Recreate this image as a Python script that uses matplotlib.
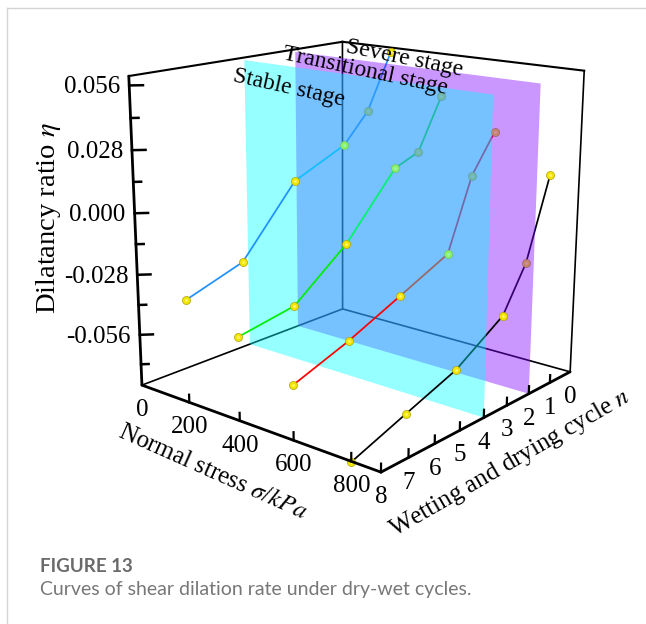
import numpy as np
import matplotlib
matplotlib.use("Agg")
import matplotlib.pyplot as plt
from matplotlib.lines import Line2D
from mpl_toolkits.mplot3d.art3d import Poly3DCollection

plt.rcParams["font.family"] = ["Liberation Serif", "DejaVu Sans"]
plt.rcParams["mathtext.fontset"] = "stix"

# data
cycles = [8, 6, 4, 2, 1, 0]
stress_levels = [200, 400, 600, 800]
eta_200 = [-0.0330, -0.0241, 0.0065, 0.0176, 0.0314, 0.0579]
eta_400 = [-0.0425, -0.0379, -0.0176, 0.0111, 0.0158, 0.0400]
eta_600 = [-0.0558, -0.0466, -0.0355, -0.0242, 0.0090, 0.0267]
eta_800 = [-0.0803, -0.0712, -0.0622, -0.0469, -0.0264, 0.0111]
curve_colors = ["#1E90FF", "#00EE00", "#FF0000", "#000000"]

eta_major = [-0.056, -0.028, 0.0, 0.028, 0.056]
eta_major_labels = ["-0.056", "-0.028", "0.000", "0.028", "0.056"]
eta_minor = [-0.07, -0.042, -0.014, 0.014, 0.042]
stress_ticks = [0, 200, 400, 600, 800]
cycle_ticks = [0, 1, 2, 3, 4, 5, 6, 7, 8]

stage_cycles = [4, 2]  # stable plane, transitional plane
plane_top = 0.0588

XMAX = 898.0
YMAX = 8.0
ZMIN, ZMAX = -0.08, 0.06
W, H = 646, 624


def pix_x(x):
    return x / W


def pix_y(y):
    return 1 - y / H


fig = plt.figure(figsize=(W / 100, H / 100), dpi=100, facecolor="white")
ax = fig.add_axes([87.9 / W, 1 - 502.0 / H, 528.6 / W, 528.6 / H], projection="3d", computed_zorder=False)
ax.set_xlim(0, XMAX, view_margin=0)
ax.set_ylim(YMAX, 0, view_margin=0)
ax.set_zlim(ZMIN, ZMAX, view_margin=0)
ax.set_box_aspect((1, 1.0021, 1.0112))
ax.view_init(elev=15.645, azim=-50.129, roll=-0.16)
ax.set_proj_type("persp", focal_length=0.4843)
ax.set_axis_off()
ax.patch.set_alpha(0)


def project(x, y, z):
    v = ax.get_proj() @ np.array([x, y, z, 1.0])
    return v[0] / v[3], v[1] / v[3]


def tick_label(text, x, y, z, dx, dy, ha="center"):
    ax.annotate(text, xy=project(x, y, z), xytext=(dx, dy), textcoords="offset pixels",
                ha=ha, va="center", fontsize=18, color="black", zorder=12, annotation_clip=False)


# box behind the planes
thin = dict(color="black", lw=1.2, solid_capstyle="round", zorder=1)
ax.plot([0, 0], [YMAX, 0], [ZMIN, ZMIN], **thin)
ax.plot([0, XMAX], [0, 0], [ZMIN, ZMIN], **thin)
ax.plot([0, 0], [0, 0], [ZMIN, ZMAX], **thin)
ax.plot([0, 0], [YMAX, 0], [ZMAX, ZMAX], color="black", lw=1.5, zorder=1)
ax.plot([0, XMAX], [0, 0], [ZMAX, ZMAX], color="black", lw=1.5, zorder=1)
ax.plot([XMAX, XMAX], [0, 0], [ZMIN, ZMAX], **thin)

curves = [eta_200, eta_400, eta_600, eta_800]


def draw_part(idx, line_z):
    # idx = positions in cycles, line_z = layer relative to the planes
    for sigma, eta, col in zip(stress_levels, curves, curve_colors):
        ns = [cycles[i] for i in idx]
        es = [eta[i] for i in idx]
        ax.plot([sigma] * len(ns), ns, es, color=col, lw=1.25, zorder=line_z)


def draw_markers(idx, marker_z):
    for sigma, eta in zip(stress_levels, curves):
        ns = [cycles[i] for i in idx]
        es = [eta[i] for i in idx]
        ax.plot([sigma] * len(ns), ns, es, ls="none", marker="o", ms=5.8, mfc="#F2E600",
                mec="#B0A200", mew=0.5, zorder=marker_z)
        ax.plot([sigma] * len(ns), ns, es, ls="none", marker="o", ms=2.0, mfc="#FFF870",
                mec="none", zorder=marker_z + 0.1)


def add_plane(n, color, z):
    verts = [[(0, n, ZMIN), (XMAX, n, ZMIN), (XMAX, n, plane_top), (0, n, plane_top)]]
    ax.add_collection3d(Poly3DCollection(verts, facecolors=color, edgecolors="none", zorder=z))


# layers from back to front, the planes tint what is behind them
draw_part([3, 4, 5], 2)
draw_markers([4, 5], 3)
add_plane(stage_cycles[1], (0.5, 0.0, 1.0, 0.41), 4)
draw_part([2, 3], 5)
draw_markers([3], 6)
add_plane(stage_cycles[0], (0.0, 1.0, 1.0, 0.41), 7)
draw_part([0, 1, 2], 8)
draw_markers([0, 1, 2], 9)

# front axes
thick = dict(color="black", lw=2.0, solid_capstyle="round", zorder=10)
ax.plot([0, XMAX], [YMAX, YMAX], [ZMIN, ZMIN], **thick)
ax.plot([XMAX, XMAX], [YMAX, 0], [ZMIN, ZMIN], **thick)
ax.plot([0, 0], [YMAX, YMAX], [ZMIN, ZMAX], **thick)

# ticks and their labels
for z, lab in zip(eta_major, eta_major_labels):
    ax.plot([0, 26], [YMAX, YMAX - 0.24], [z, z], color="black", lw=1.8, zorder=10)
    tick_label(lab, 0, YMAX, z, -9, -2, ha="right")
for z in eta_minor:
    ax.plot([0, 15], [YMAX, YMAX - 0.14], [z, z], color="black", lw=1.8, zorder=10)
for s in stress_ticks:
    if s > 0:
        ax.plot([s, s], [YMAX, YMAX], [ZMIN, ZMIN + 0.0036], color="black", lw=1.6, zorder=10)
    tick_label(str(s), s, YMAX, ZMIN, 0, -25)
for n in cycle_ticks:
    if n > 0:
        ax.plot([XMAX, XMAX], [n, n], [ZMIN, ZMIN + 0.0036], color="black", lw=1.6, zorder=10)
    tick_label(str(n), XMAX, n, ZMIN, 0, -25)

# axis titles
fig.text(pix_x(49), pix_y(218), r"Dilatancy ratio $\eta$", rotation=90, ha="center", va="center", fontsize=20.5)
fig.text(pix_x(212), pix_y(472), r"Normal stress $\sigma$/$kPa$", rotation=-24, rotation_mode="anchor",
         ha="center", va="center", fontsize=18)
fig.text(pix_x(510), pix_y(463), r"Wetting and drying cycle $n$", rotation=30, rotation_mode="anchor",
         ha="center", va="center", fontsize=18)

# plane names
fig.text(pix_x(289), pix_y(88), "Stable stage", rotation=-12.5, rotation_mode="anchor",
         ha="center", va="center", fontsize=17)
fig.text(pix_x(365), pix_y(71), "Transitional stage", rotation=-12, rotation_mode="anchor",
         ha="center", va="center", fontsize=17)
fig.text(pix_x(404), pix_y(59), "Severe stage", rotation=-11.5, rotation_mode="anchor",
         ha="center", va="center", fontsize=17)

# page frame and caption
fig.add_artist(Line2D([pix_x(7), 1], [pix_y(8), pix_y(8)], color="#d4d4d4", lw=1))
fig.add_artist(Line2D([pix_x(7), pix_x(7)], [pix_y(8), 0], color="#d4d4d4", lw=1))
fig.text(pix_x(40), pix_y(566), "FIGURE 13", family="Lato", weight="bold", fontsize=13.5,
         color="#6a6a6a", ha="left", va="center")
fig.text(pix_x(40), pix_y(590), "Curves of shear dilation rate under dry-wet cycles.", family="Lato",
         fontsize=14, color="#777777", ha="left", va="center")

fig.savefig("out.png", dpi=100)
